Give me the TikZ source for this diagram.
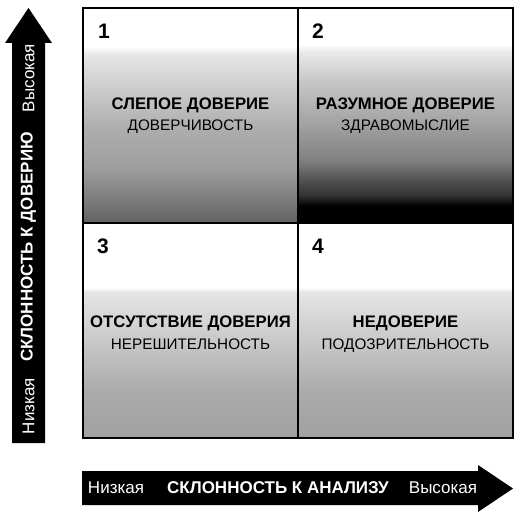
\documentclass[tikz,border=0pt]{standalone}
\usepackage{fontspec}
\setmainfont{Liberation Sans}
\pgfdeclareverticalshading{blindtrust}{100bp}{color(0bp)=(black!62); color(25bp)=(black!62); color(30bp)=(black!52); color(38bp)=(black!38); color(47bp)=(black!32); color(64bp)=(black!10); color(66bp)=(white); color(100bp)=(white)}
\pgfdeclareverticalshading{wisetrust}{100bp}{color(0bp)=(black); color(29bp)=(black); color(31.5bp)=(black!80); color(35bp)=(black!68); color(39.5bp)=(black!50); color(49bp)=(black!35); color(58bp)=(black!22); color(65bp)=(black!8); color(66.5bp)=(white); color(100bp)=(white)}
\pgfdeclareverticalshading{notrust}{100bp}{color(0bp)=(black!37); color(25bp)=(black!37); color(36bp)=(black!33); color(59bp)=(black!10); color(60bp)=(white); color(100bp)=(white)}
\begin{document}
\begin{tikzpicture}[x=1pt,y=-1pt,
  cellnum/.style={anchor=base west, inner sep=0pt, font=\bfseries\fontsize{21}{21}\selectfont},
  celltitle/.style={anchor=base, font=\bfseries\fontsize{16.7}{17}\selectfont},
  cellsub/.style={anchor=base, font=\fontsize{15.3}{16}\selectfont},
  axislabel/.style={text=white, font=\fontsize{17}{17}\selectfont},
  axistitle/.style={text=white, font=\bfseries\fontsize{17}{17}\selectfont}]
\useasboundingbox (0,0) rectangle (522,518);

\shade[shading=blindtrust] (83,8) rectangle (298,223);
\shade[shading=wisetrust] (298,8) rectangle (513,223);
\shade[shading=notrust] (83,223) rectangle (513,438);
\draw[line width=1.5pt] (83,8) rectangle (513,438) (298,8) -- (298,438) (83,223) -- (513,223);

\node[cellnum] (n1) at (98,39) {1};
\node[cellnum] (n2) at (312,39) {2};
\node[cellnum] (n3) at (97,254) {3};
\node[cellnum] (n4) at (312,254) {4};

\node[celltitle] (blind) at (190.5,110) {СЛЕПОЕ ДОВЕРИЕ};
\node[cellsub] (credulity) at (190.5,130.5) {ДОВЕРЧИВОСТЬ};
\node[celltitle] (wise) at (405.5,110) {РАЗУМНОЕ ДОВЕРИЕ};
\node[cellsub] (sense) at (405.5,130.5) {ЗДРАВОМЫСЛИЕ};
\node[celltitle] (absent) at (190.5,328) {ОТСУТСТВИЕ ДОВЕРИЯ};
\node[cellsub] (indecision) at (190.5,349.5) {НЕРЕШИТЕЛЬНОСТЬ};
\node[celltitle] (distrust) at (405.5,328) {НЕДОВЕРИЕ};
\node[cellsub] (suspicion) at (405.5,349.5) {ПОДОЗРИТЕЛЬНОСТЬ};

\fill (12,443) -- (12,43) -- (5,43) -- (28.5,8) -- (52,43) -- (45,43) -- (45,443) -- cycle;
\fill (82,471) -- (478,471) -- (478,465) -- (513,488.5) -- (478,512) -- (478,505) -- (82,505) -- cycle;

\node[axislabel, rotate=90] (trustlow) at (28.5,406) {Низкая};
\node[axistitle, rotate=90] (trustaxis) at (28.5,247) {СКЛОННОСТЬ К ДОВЕРИЮ};
\node[axislabel, rotate=90] (trusthigh) at (28.5,78) {Высокая};
\node[axislabel] (analysislow) at (116,488) {Низкая};
\node[axistitle] (analysisaxis) at (278,488) {СКЛОННОСТЬ К АНАЛИЗУ};
\node[axislabel] (analysishigh) at (443,488) {Высокая};
\end{tikzpicture}
\end{document}
